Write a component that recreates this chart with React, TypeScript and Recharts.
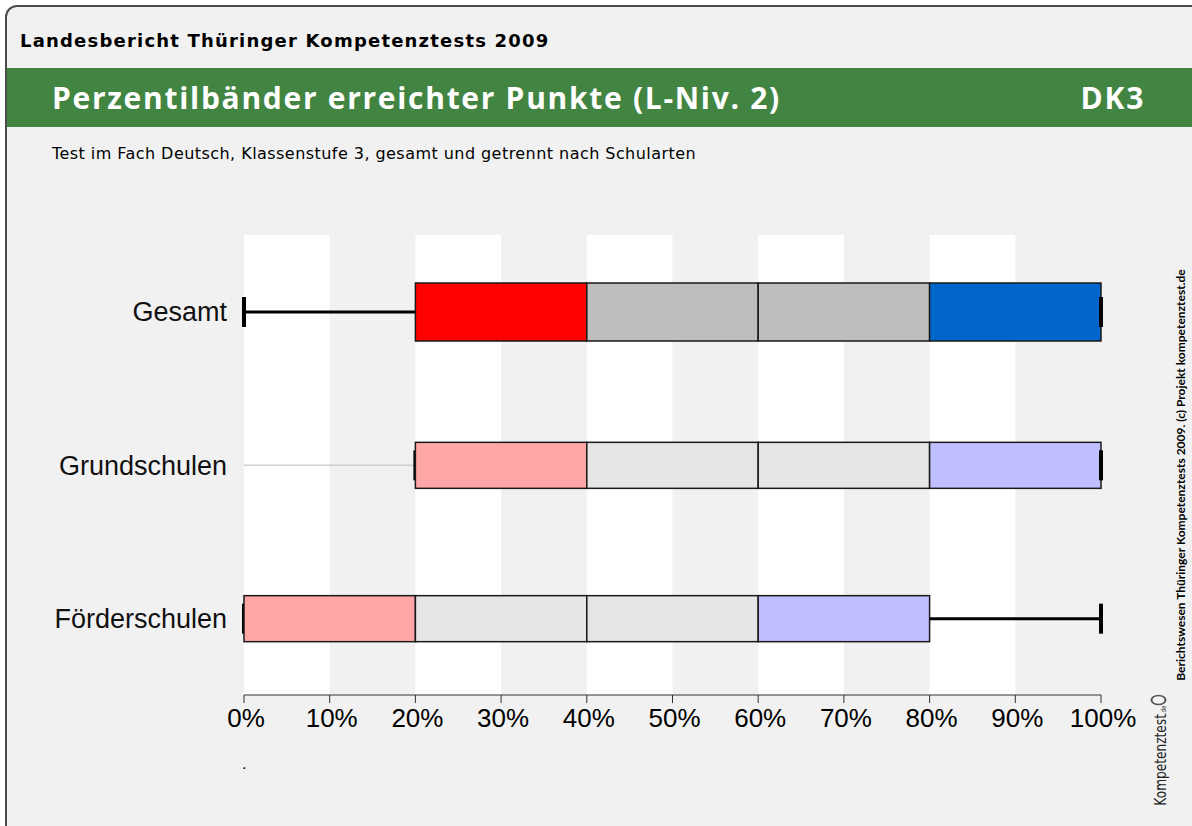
import React from "react";
import { BarChart, Bar, XAxis, YAxis, ReferenceArea } from "recharts";

// percentile bands per school type (values in % of max points)
const categories = ["Gesamt", "Grundschulen", "Förderschulen"];
const whiskerLow = [0, 20, 0];
const bandEdge1 = [20, 20, 0];
const bandEdge2 = [40, 40, 20];
const bandEdge3 = [60, 60, 40];
const bandEdge4 = [80, 80, 60];
const bandEdge5 = [100, 100, 80];
const whiskerHigh = [100, 100, 100];
const xTicks = [0, 10, 20, 30, 40, 50, 60, 70, 80, 90, 100];

// styling per row: Gesamt is emphasised, school types are lighter
const STRONG = ["#ff0000", "#bebebe", "#bebebe", "#0066cc"];
const LIGHT = ["#ffa6a6", "#e5e5e5", "#e5e5e5", "#bfbfff"];
const ROW_PALETTE = [STRONG, LIGHT, LIGHT];
const ROW_BAR_HEIGHT = [58, 46, 46];
const WHISKER_TICK = 30;
const FONT = "'Liberation Sans', Arial, sans-serif";
const HEAD_FONT = "'DejaVu Sans', sans-serif";

const rows = categories.map((name, i) => ({
  name,
  gap: whiskerLow[i],
  wl: bandEdge1[i] - whiskerLow[i],
  b1: bandEdge2[i] - bandEdge1[i],
  b2: bandEdge3[i] - bandEdge2[i],
  b3: bandEdge4[i] - bandEdge3[i],
  b4: bandEdge5[i] - bandEdge4[i],
  wh: whiskerHigh[i] - bandEdge5[i],
}));

const bands = xTicks
  .filter((_, i) => i % 2 === 0 && i < xTicks.length - 1)
  .map((t, i) => [t, xTicks[i * 2 + 1]]);

const gapShape = (p: any) => {
  const cy = p.y + p.height / 2;
  if (!p.width) return <g />;
  return <line x1={p.x} x2={p.x + p.width} y1={cy} y2={cy} stroke="#cfcfcf" strokeWidth={1.5} />;
};

const whiskerShape = (side: "left" | "right") => (p: any) => {
  const cy = p.y + p.height / 2;
  const tx = side === "left" ? p.x : p.x + p.width;
  return (
    <g>
      {p.width > 0 && (
        <line x1={p.x} x2={p.x + p.width} y1={cy} y2={cy} stroke="#000" strokeWidth={3} />
      )}
      <line x1={tx} x2={tx} y1={cy - WHISKER_TICK / 2} y2={cy + WHISKER_TICK / 2} stroke="#000" strokeWidth={4} />
    </g>
  );
};

const boxShape = (seg: number) => (p: any) => {
  const h = ROW_BAR_HEIGHT[p.index] ?? 46;
  const cy = p.y + p.height / 2;
  if (!p.width) return <g />;
  return (
    <rect
      x={p.x}
      y={cy - h / 2}
      width={p.width}
      height={h}
      fill={ROW_PALETTE[p.index][seg]}
      stroke="#1a1a1a"
      strokeWidth={1.5}
    />
  );
};

export default function App() {
  return (
    <div style={{ position: "absolute", left: 0, top: 0, width: 1192, height: 826, overflow: "hidden", background: "#fff" }}>
      <div
        style={{
          position: "absolute",
          left: 5,
          top: 5,
          width: 1210,
          height: 840,
          border: "2px solid #4a4a4a",
          borderRadius: 12,
          background: "#f1f1f1",
        }}
      />
      <div style={{ position: "absolute", left: 20, top: 30, fontFamily: HEAD_FONT, fontWeight: 700, fontSize: 18, letterSpacing: 1.2, color: "#000" }}>
        Landesbericht Thüringer Kompetenztests 2009
      </div>
      <div style={{ position: "absolute", left: 7, top: 68, width: 1185, height: 59, background: "#428542" }} />
      <div style={{ position: "absolute", left: 52, top: 78, fontFamily: "'Open Sans', sans-serif", fontWeight: 700, fontSize: 30, letterSpacing: 1.7, color: "#fff", lineHeight: "40px" }}>
        Perzentilbänder erreichter Punkte (L-Niv. 2)
      </div>
      <div style={{ position: "absolute", right: 47, top: 78, fontFamily: "'Open Sans', sans-serif", fontWeight: 700, fontSize: 30, letterSpacing: 1.7, color: "#fff", lineHeight: "40px" }}>
        DK3
      </div>
      <div style={{ position: "absolute", left: 52, top: 144, fontFamily: HEAD_FONT, fontSize: 16, letterSpacing: 0.45, color: "#000" }}>
        Test im Fach Deutsch, Klassenstufe 3, gesamt und getrennt nach Schularten
      </div>
      <div
        style={{
          position: "absolute",
          left: 1180,
          top: 475,
          transform: "translate(-50%, -50%) rotate(-90deg)",
          whiteSpace: "nowrap",
          fontFamily: "Lato, sans-serif",
          fontWeight: 700,
          fontSize: 12,
          color: "#000",
        }}
      >
        Berichtswesen Thüringer Kompetenztests 2009. (c) Projekt kompetenztest.de
      </div>
      <div
        style={{
          position: "absolute",
          left: 1160,
          top: 750,
          transform: "translate(-50%, -50%) rotate(-90deg) scale(0.76, 1)",
          whiteSpace: "nowrap",
          fontFamily: "'DejaVu Sans', sans-serif",
          fontSize: 16,
          color: "#222",
        }}
      >
        Kompetenztest<span style={{ fontSize: 7 }}>.de</span>
        <span
          style={{
            display: "inline-block",
            width: 10,
            height: 12,
            borderRadius: "50%",
            border: "2px solid #555",
            marginLeft: 1,
            verticalAlign: "top",
          }}
        />
      </div>
      <div style={{ position: "absolute", left: 242, top: 755, fontFamily: FONT, fontSize: 16 }}>.</div>
      <div style={{ position: "absolute", left: 0, top: 0 }}>
        <BarChart
          width={1192}
          height={826}
          data={rows}
          layout="vertical"
          margin={{ top: 235, right: 91, left: 0, bottom: 0 }}
          barSize={58}
        >
          {bands.map(([a, b]) => (
            <ReferenceArea key={a} x1={a} x2={b} fill="#ffffff" fillOpacity={1} stroke="none" ifOverflow="visible" />
          ))}
          <XAxis
            type="number"
            domain={[0, 100]}
            ticks={xTicks}
            tickFormatter={(v) => `${v}%`}
            height={131}
            tickSize={8}
            tickMargin={6}
            stroke="#333"
            interval={0}
            tick={{ fill: "#000", fontSize: 26, fontFamily: FONT, dx: 2 }}
          />
          <YAxis
            type="category"
            dataKey="name"
            width={244}
            axisLine={false}
            tickLine={false}
            tickSize={0}
            tickMargin={17}
            tick={{ fill: "#111", fontSize: 27, fontFamily: FONT }}
          />
          <Bar dataKey="gap" stackId="p" isAnimationActive={false} shape={gapShape} />
          <Bar dataKey="wl" stackId="p" isAnimationActive={false} shape={whiskerShape("left")} />
          <Bar dataKey="b1" stackId="p" isAnimationActive={false} shape={boxShape(0)} />
          <Bar dataKey="b2" stackId="p" isAnimationActive={false} shape={boxShape(1)} />
          <Bar dataKey="b3" stackId="p" isAnimationActive={false} shape={boxShape(2)} />
          <Bar dataKey="b4" stackId="p" isAnimationActive={false} shape={boxShape(3)} />
          <Bar dataKey="wh" stackId="p" isAnimationActive={false} shape={whiskerShape("right")} />
        </BarChart>
      </div>
    </div>
  );
}
